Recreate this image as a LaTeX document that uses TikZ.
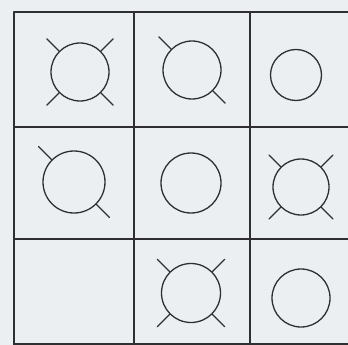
\documentclass[tikz,border=0pt]{standalone}
\usepackage{xcolor}
\usepackage{tikz}
\usetikzlibrary{calc}
\definecolor{pencil}{HTML}{2F2F31}
\definecolor{paper}{HTML}{ECEFF2}
\tikzset{
  gridline/.style={draw=pencil,line width=1.7pt,line cap=round},
  ring/.style={circle,draw=pencil,line width=1.3pt,inner sep=0pt,minimum size=#1},
  ring/.default=58pt,
  tick/.style={draw=pencil,line width=1.3pt,line cap=round},
}

\begin{document}
\begin{tikzpicture}[x=1pt,y=-1pt]
  \fill[paper] (0,0) rectangle (348,345);
  \useasboundingbox (0,0) rectangle (348,345);
  % grid
  \foreach \y in {12,127,239,344}{\draw[gridline] (14,\y) -- (348,\y);}
  \foreach \x in {14,134,250}{\draw[gridline] (\x,12) -- (\x,345);}
  % circles, row by row
  \foreach \name/\x/\y/\d in {a/80/72/58, b/192/70/58, c/296/75/51,
                              d/74/182/62, e/191/183/60, f/301/187/56,
                              h/191/293/59, i/301/298/58}{
     \node[ring=\d pt] (\name) at (\x,\y) {};
  }
  % ticks on the border
  \foreach \c/\a in {a/45,a/135,a/225,a/315, b/135,b/315, d/135,d/315,
                     f/45,f/135,f/225,f/315, h/45,h/135,h/225,h/315}{
     \draw[tick] (\c.\a) -- ($(\c.center)!1.58!(\c.\a)$);
  }
\end{tikzpicture}
\end{document}
